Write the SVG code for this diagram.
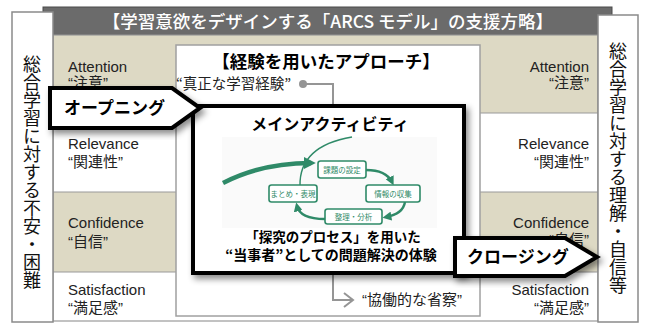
<svg xmlns="http://www.w3.org/2000/svg" width="646" height="324" viewBox="0 0 646 324">
<style>
.jp{font-family:"Noto Sans CJK JP","Liberation Sans",sans-serif}
.lbl{font-family:"Liberation Sans","Noto Sans CJK JP",sans-serif;font-size:15px;fill:#222}
.row{stroke:#9a9a9a;stroke-width:1.2}
.beige{fill:#ddd9c4}
.panel{fill:#fff;stroke:#8a8a8a;stroke-width:1.5}
.vt{font-family:"Noto Sans CJK JP",sans-serif;font-size:18px;fill:#111;writing-mode:vertical-rl}
.gbox{fill:#fff;stroke:#2f8a68;stroke-width:1.6}
.gtxt{font-family:"Noto Sans CJK JP",sans-serif;font-size:7.5px;fill:#2f8a68;text-anchor:middle}
.garr{fill:none;stroke:#2f8a68;stroke-width:2.4}
.conn{fill:none;stroke:#959595;stroke-width:2}
.big{font-family:"Noto Sans CJK JP",sans-serif;font-weight:700;fill:#000}
.arrowbox{fill:#fff;stroke:#000;stroke-width:4;stroke-linejoin:miter}
</style>
<defs>
<filter id="sh" x="-10%" y="-10%" width="130%" height="140%">
<feDropShadow dx="3" dy="4" stdDeviation="3" flood-color="#000" flood-opacity="0.45"/>
</filter>
<marker id="gh" viewBox="0 0 10 10" refX="6" refY="5" markerWidth="9" markerHeight="9" markerUnits="userSpaceOnUse" orient="auto">
<path d="M0,0 L10,5 L0,10 Z" fill="#2f8a68"/>
</marker>
<marker id="gh2" viewBox="0 0 10 10" refX="6" refY="5" markerWidth="12" markerHeight="12" markerUnits="userSpaceOnUse" orient="auto">
<path d="M0,0 L10,5 L0,10 Z" fill="#2f8a68"/>
</marker>
</defs>

<g id="titlebar">
<rect x="43" y="7" width="569" height="28" fill="#6b6b6b" stroke="#4a4a4a" stroke-width="1"/>
<text x="328" y="28" class="jp" font-size="17.5" font-weight="500" fill="#fff" text-anchor="middle">【学習意欲をデザインする「ARCS モデル」の支援方略】</text>
</g>

<g id="rows">
<rect x="53" y="35" width="545" height="78" class="beige"/>
<rect x="53" y="113" width="545" height="79" fill="#fff"/>
<rect x="53" y="192" width="545" height="80" class="beige"/>
<rect x="53" y="272" width="545" height="49" fill="#fff"/>
<rect x="53" y="35" width="545" height="286" fill="none" stroke="#9a9a9a" stroke-width="1.2"/>
<line x1="53" y1="113" x2="598" y2="113" class="row"/>
<line x1="53" y1="192" x2="598" y2="192" class="row"/>
<line x1="53" y1="272" x2="598" y2="272" class="row"/>
</g>

<g id="row-labels-left">
<text x="68" y="72" class="lbl">Attention</text>
<text x="68" y="88" class="lbl">“注意”</text>
<text x="68" y="149" class="lbl">Relevance</text>
<text x="68" y="167" class="lbl">“関連性”</text>
<text x="68" y="228" class="lbl">Confidence</text>
<text x="68" y="247" class="lbl">“自信”</text>
<text x="68" y="295" class="lbl">Satisfaction</text>
<text x="68" y="313" class="lbl">“満足感”</text>
</g>
<g id="row-labels-right" text-anchor="end">
<text x="589" y="72" class="lbl">Attention</text>
<text x="589" y="88" class="lbl">“注意”</text>
<text x="589" y="149" class="lbl">Relevance</text>
<text x="589" y="167" class="lbl">“関連性”</text>
<text x="589" y="228" class="lbl">Confidence</text>
<text x="589" y="245" class="lbl">“自信”</text>
<text x="589" y="295" class="lbl">Satisfaction</text>
<text x="589" y="313" class="lbl">“満足感”</text>
</g>

<g id="left-panel">
<rect x="12" y="12" width="41" height="310" class="panel"/>
<text x="32" y="55" class="vt">総合学習に対する不安・困難</text>
</g>
<g id="right-panel">
<rect x="598" y="15" width="40" height="307" class="panel"/>
<text x="618" y="42" class="vt">総合学習に対する理解・自信等</text>
</g>

<g id="approach-panel">
<rect x="176" y="45" width="304" height="271" fill="#fff" stroke="#a0a0a0" stroke-width="1.5"/>
<text x="326" y="68" class="big" font-size="17.5" text-anchor="middle">【経験を用いたアプローチ】</text>
<text x="176" y="89" class="jp" font-size="14.5" fill="#222">“真正な学習経験”</text>
<text x="362" y="305" class="lbl">“協働的な省察”</text>
</g>

<g id="connectors">
<circle cx="303" cy="84" r="4" fill="#959595"/>
<path d="M303,84 H333 V300 H352" class="conn"/>
<path d="M344,293 L353,300 L344,307" class="conn"/>
</g>

<g id="main-activity">
<rect x="193" y="106" width="271" height="167" fill="#fff" stroke="#000" stroke-width="4" filter="url(#sh)"/>
<text x="330" y="130" class="big" font-size="16" text-anchor="middle">メインアクティビティ</text>
<rect x="222" y="137" width="215" height="91" fill="#fafafa"/>
<path d="M300,186 Q299,146 352,137" fill="none" stroke="#2f8a68" stroke-width="1.4"/>
<path d="M223,183 Q262,163 311,163" fill="none" stroke="#2f8a68" stroke-width="4.5" marker-end="url(#gh2)"/>
<path d="M366,170 Q386,170 392,182" class="garr" marker-end="url(#gh)"/>
<path d="M405,202 Q403,214 386,217" class="garr" marker-end="url(#gh)"/>
<path d="M325,219 Q300,219 297,206" class="garr" marker-end="url(#gh)"/>
<g id="cycle-kadai"><rect x="318" y="161" width="48" height="17" rx="2.5" class="gbox"/><text x="342" y="172.5" class="gtxt">課題の設定</text></g>
<g id="cycle-matome"><rect x="269" y="185" width="48" height="17" rx="2.5" class="gbox"/><text x="293" y="196.5" class="gtxt">まとめ・表現</text></g>
<g id="cycle-joho"><rect x="366" y="185" width="54" height="17" rx="2.5" class="gbox"/><text x="393" y="196.5" class="gtxt">情報の収集</text></g>
<g id="cycle-seiri"><rect x="325" y="209" width="57" height="15" rx="2.5" class="gbox"/><text x="353.5" y="219.5" class="gtxt">整理・分析</text></g>
<text x="333" y="242" class="big" font-size="13.5" text-anchor="middle">「探究のプロセス」を用いた</text>
<text x="331" y="260" class="big" font-size="14" text-anchor="middle">“当事者”としての問題解決の体験</text>
</g>

<g id="opening">
<path d="M50,88 L172,88 L200,108 L172,128 L50,128 Z" class="arrowbox" filter="url(#sh)"/>
<text x="64" y="114" class="big" font-size="17">オープニング</text>
</g>
<g id="closing">
<path d="M455,238 L565,238 L597,257 L565,276 L455,276 Z" class="arrowbox" filter="url(#sh)"/>
<text x="467" y="263" class="big" font-size="17">クロージング</text>
</g>
</svg>
